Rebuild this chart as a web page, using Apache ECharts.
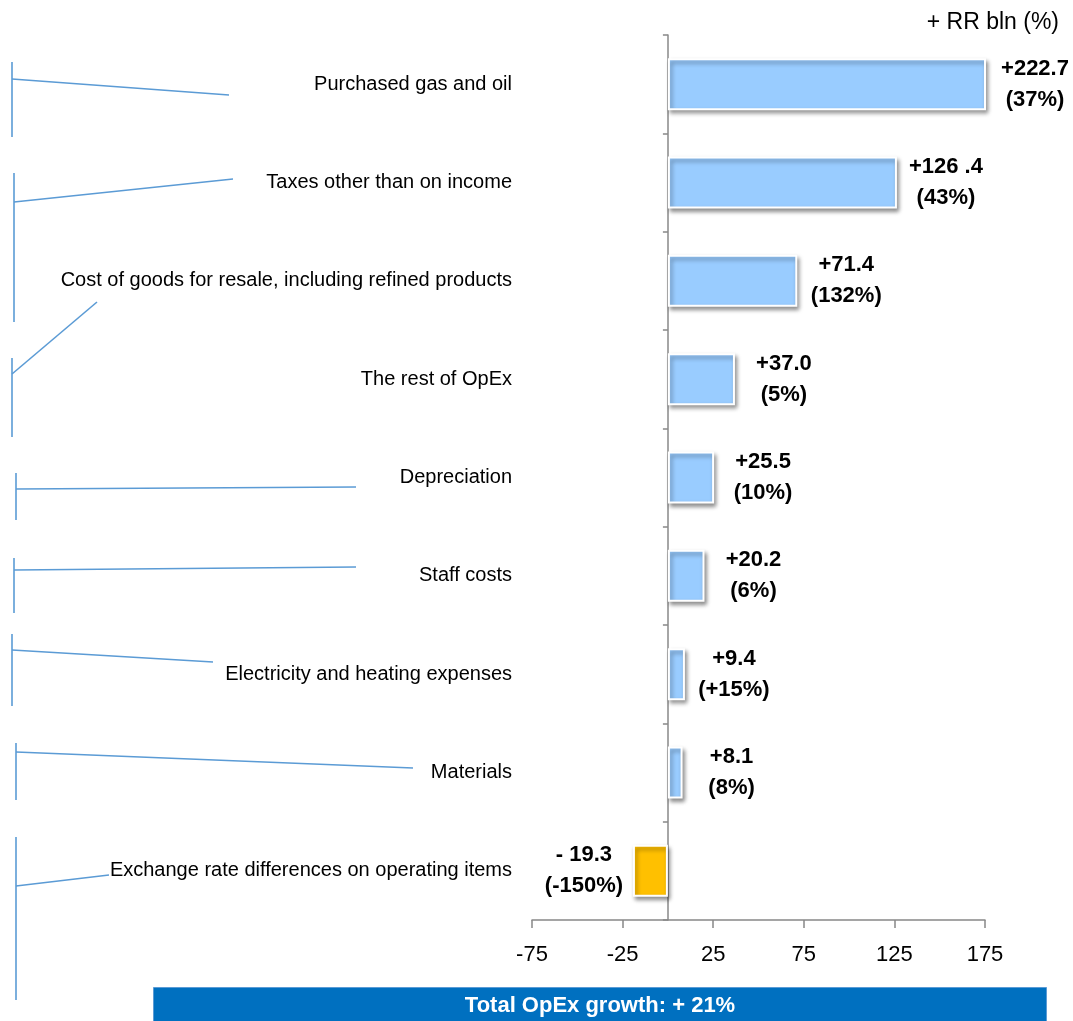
<!DOCTYPE html>
<html>
<head>
<meta charset="utf-8">
<script src="https://cdn.jsdelivr.net/npm/echarts@6/dist/echarts.min.js"></script>
<style>
html,body{margin:0;padding:0;background:#fff;}
#chart{width:1073px;height:1021px;}
</style>
</head>
<body>
<div id="chart"></div>
<script>
const categories = [
  'Purchased gas and oil',
  'Taxes other than on income',
  'Cost of goods for resale, including refined products',
  'The rest of OpEx',
  'Depreciation',
  'Staff costs',
  'Electricity and heating expenses',
  'Materials',
  'Exchange rate differences on operating items'
];
const values = [222.7, 126.4, 71.4, 37.0, 25.5, 20.2, 9.4, 8.1, -19.3];
const valueTexts = ['+222.7', '+126 .4', '+71.4', '+37.0', '+25.5', '+20.2', '+9.4', '+8.1', '- 19.3'];
const shareTexts = ['(37%)', '(43%)', '(132%)', '(5%)', '(10%)', '(6%)', '(+15%)', '(8%)', '(-150%)'];
const xMin = -75, xMax = 175, xStep = 50;
const unitText = '+ RR bln (%)';
const totalText = 'Total OpEx growth: + 21%';

const FONT = "'Liberation Sans', Arial, sans-serif";
const POS = '#99CCFF', NEG = '#FFC000', LINE = '#5B9BD5', AXIS = '#888888';

const chart = echarts.init(document.getElementById('chart'));

function seg(x1, y1, x2, y2) {
  return { type: 'line', shape: { x1, y1, x2, y2 }, style: { stroke: LINE, lineWidth: 1.6 }, silent: true };
}
const deco = [
  seg(12, 62, 12, 137), seg(12, 79, 229, 95),
  seg(14, 173, 14, 322), seg(14, 202, 233, 179),
  seg(12, 358, 12, 437), seg(12, 374, 97, 302),
  seg(16, 473, 16, 520), seg(16, 489, 356, 487),
  seg(14, 558, 14, 613), seg(14, 570, 356, 567),
  seg(12, 634, 12, 706), seg(12, 650, 213, 662),
  seg(16, 743, 16, 800), seg(16, 752, 413, 768),
  seg(16, 837, 16, 1000), seg(16, 886, 109, 875)
];

const option = {
  backgroundColor: '#fff',
  animation: false,
  title: {
    text: unitText, right: 9, top: 6,
    textStyle: { fontFamily: FONT, fontSize: 23, fontWeight: 'normal', color: '#000' }
  },
  grid: { left: 532, right: 88, top: 35, bottom: 101, containLabel: false, outerBoundsMode: 'none' },
  xAxis: {
    type: 'value', min: xMin, max: xMax, interval: xStep,
    axisLine: { show: true, lineStyle: { color: AXIS, width: 1.5 } },
    axisTick: { show: true, length: 8, lineStyle: { color: AXIS, width: 1.5 } },
    axisLabel: { fontFamily: FONT, fontSize: 22, color: '#000', margin: 24 },
    splitLine: { show: false }
  },
  yAxis: {
    type: 'category', data: categories, inverse: true,
    axisLine: { show: true, onZero: true, lineStyle: { color: AXIS, width: 1.5 } },
    axisTick: { show: true, length: 5, lineStyle: { color: AXIS, width: 1.5 } },
    axisLabel: { fontFamily: FONT, fontSize: 20, color: '#000', margin: 20 }
  },
  series: [{
    type: 'bar',
    barWidth: 52,
    clip: true,
    data: values.map((v, i) => ({
      value: v,
      itemStyle: { color: v < 0 ? NEG : POS },
      label: { position: v < 0 ? 'left' : 'right' }
    })),
    itemStyle: {
      borderColor: '#fff', borderWidth: 2,
      shadowBlur: 4, shadowColor: 'rgba(0,0,0,0.4)', shadowOffsetX: 2, shadowOffsetY: 3
    },
    label: {
      show: true, distance: 10,
      formatter: p => '{a|' + valueTexts[p.dataIndex] + '}\n{a|' + shareTexts[p.dataIndex] + '}',
      rich: {
        a: { fontFamily: FONT, fontSize: 22, fontWeight: 'bold', color: '#000', lineHeight: 31, width: 78, align: 'center' }
      }
    }
  }],
  graphic: deco.concat([
    {
      type: 'rect', left: 153, top: 987, silent: true,
      shape: { width: 893, height: 40 },
      style: { fill: '#0070C0', stroke: '#5B9BD5', lineWidth: 1 }
    },
    {
      type: 'text', x: 600, y: 1006, silent: true,
      style: { text: totalText, fill: '#fff', font: 'bold 22px ' + FONT, textAlign: 'center', textVerticalAlign: 'middle' }
    }
  ])
};
chart.setOption(option);
</script>
</body>
</html>
